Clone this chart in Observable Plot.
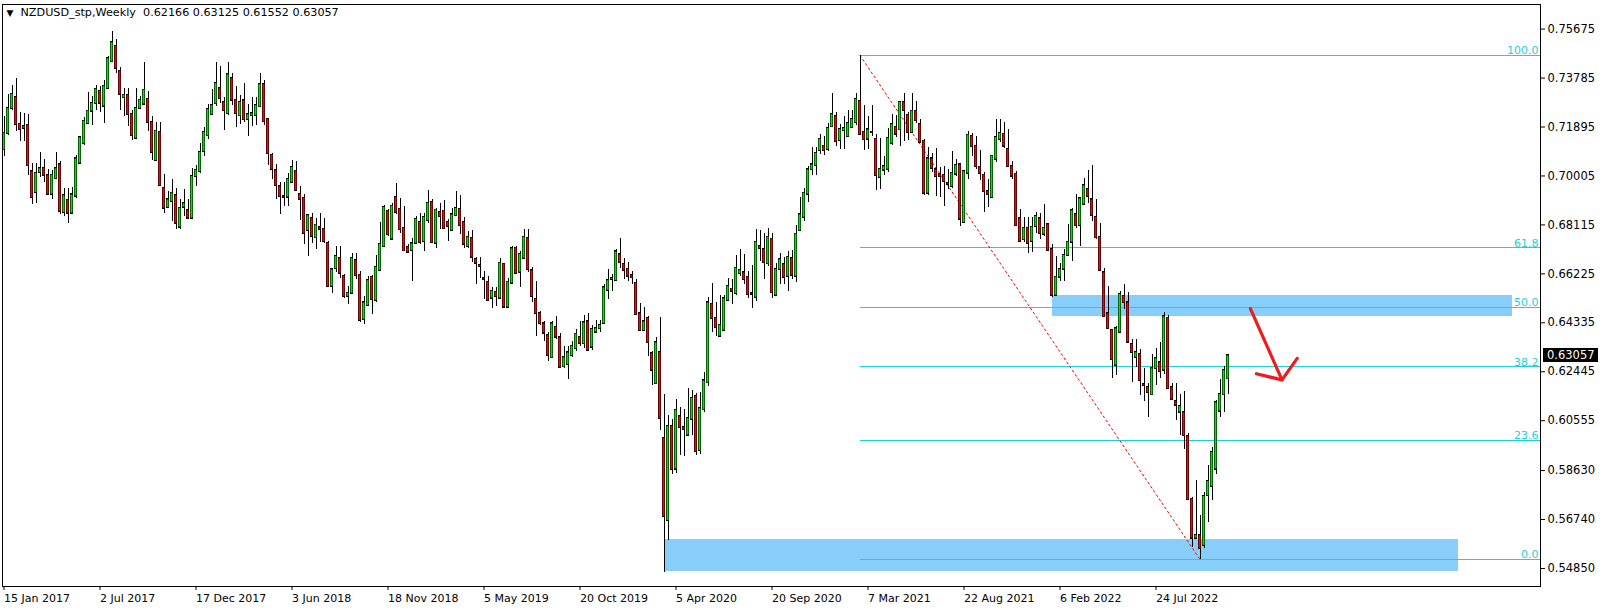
<!DOCTYPE html>
<html><head><meta charset="utf-8">
<script src="https://cdn.jsdelivr.net/npm/d3@7"></script>
<script src="https://cdn.jsdelivr.net/npm/@observablehq/plot@0.6"></script>
<style>
html,body{margin:0;padding:0;background:#fff;}
#chart svg{display:block}
</style></head><body><div id="chart"></div>
<script>
// ---------- data ----------
const symbolName = "NZDUSD_stp,Weekly";
const lastBar = [0.62166, 0.63125, 0.61552, 0.63057]; // O H L C
const firstWeek = "2017-01-15";

const opens = [
.7101,.7165,.7261,.7303,.7201,.7185,.7197,.7017,.6936,.7014,
.7030,.7001,.6930,.6989,.7043,.6859,.6907,.6857,.6923,.7050,
.7126,.7203,.7251,.7280,.7328,.7270,.7338,.7441,.7501,.7405,
.7302,.7312,.7239,.7146,.7261,.7278,.7297,.7207,.7060,.7170,
.6953,.6879,.6902,.6924,.6803,.6880,.6866,.6838,.6998,.7017,
.7095,.7155,.7237,.7279,.7337,.7284,.7241,.7376,.7293,.7232,
.7290,.7218,.7233,.7234,.7267,.7353,.7218,.7081,.7021,.6959,
.6922,.6919,.6976,.7019,.6929,.6914,.6790,.6837,.6761,.6800,
.6795,.6741,.6574,.6642,.6683,.6612,.6536,.6548,.6673,.6618,
.6446,.6500,.6610,.6520,.6636,.6728,.6865,.6757,.6918,.6872,
.6798,.6725,.6712,.6741,.6822,.6747,.6828,.6899,.6741,.6859,
.6865,.6822,.6790,.6847,.6872,.6822,.6728,.6760,.6679,.6655,
.6605,.6591,.6529,.6552,.6529,.6660,.6494,.6587,.6722,.6629,
.6683,.6760,.6634,.6525,.6469,.6429,.6384,.6298,.6417,.6375,
.6263,.6272,.6307,.6333,.6378,.6352,.6437,.6340,.6398,.6410,
.6431,.6559,.6601,.6597,.6696,.6660,.6641,.6615,.6587,.6468,
.6404,.6450,.6314,.6198,.6318,.5987,.5670,.6033,.5869,.6071,
.6029,.6000,.6061,.6149,.5939,.6097,.6202,.6506,.6450,.6382,
.6405,.6520,.6564,.6546,.6623,.6626,.6610,.6546,.6532,.6728,
.6716,.6661,.6757,.6540,.6639,.6658,.6613,.6681,.6613,.6789,
.6841,.6930,.7024,.7040,.7098,.7116,.7103,.7190,.7231,.7137,
.7175,.7152,.7187,.7206,.7289,.7170,.7143,.7170,.7143,.6995,
.7023,.7026,.7126,.7189,.7178,.7284,.7235,.7168,.7251,.7199,
.7135,.6934,.7066,.7024,.7007,.7004,.6972,.6960,.7008,.7043,
.6821,.7011,.7154,.7116,.7034,.7004,.6940,.6917,.7065,.7142,
.7162,.7103,.7036,.7008,.6835,.6754,.6799,.6748,.6805,.6835,
.6776,.6812,.6716,.6540,.6610,.6641,.6694,.6745,.6850,.6809,
.6891,.6949,.6908,.6841,.6764,.6626,.6468,.6404,.6270,.6397,
.6536,.6510,.6350,.6300,.6311,.6195,.6183,.6155,.6256,.6279,
.6251,.6452,.6183,.6129,.6089,.6087,.5994,.5753,.5602,.5612,
.5574,.5766,.5802,.5869,.6093,.6155,0.62166
];
const highs = [
.7229,.7316,.7351,.7376,.7246,.7242,.7238,.7047,.7047,.7090,
.7065,.7026,.7021,.7092,.7056,.6953,.6953,.6956,.7081,.7152,
.7225,.7321,.7308,.7351,.7344,.7370,.7462,.7559,.7527,.7421,
.7338,.7338,.7255,.7338,.7308,.7437,.7325,.7229,.7206,.7206,
.7008,.6940,.6985,.6953,.6908,.6949,.6908,.7030,.7039,.7126,
.7187,.7277,.7334,.7439,.7423,.7305,.7438,.7395,.7346,.7312,
.7357,.7276,.7305,.7305,.7395,.7370,.7222,.7087,.7046,.6976,
.6976,.7010,.7059,.7055,.6959,.6927,.6850,.6856,.6837,.6854,
.6837,.6747,.6645,.6728,.6728,.6619,.6574,.6702,.6702,.6632,
.6536,.6613,.6615,.6692,.6820,.6888,.6872,.6895,.6972,.6914,
.6884,.6734,.6760,.6843,.6856,.6856,.6946,.6908,.6875,.6895,
.6905,.6831,.6875,.6942,.6924,.6841,.6786,.6788,.6687,.6687,
.6632,.6612,.6568,.6568,.6683,.6664,.6606,.6728,.6730,.6709,
.6795,.6792,.6647,.6593,.6478,.6439,.6397,.6439,.6459,.6394,
.6343,.6343,.6362,.6407,.6439,.6461,.6468,.6423,.6442,.6442,
.6581,.6639,.6619,.6716,.6760,.6683,.6668,.6632,.6600,.6508,
.6491,.6456,.6324,.6376,.6453,.6157,.6074,.6061,.6138,.6106,
.6100,.6179,.6174,.6161,.6164,.6243,.6533,.6587,.6510,.6538,
.6538,.6603,.6600,.6692,.6718,.6696,.6632,.6655,.6793,.6790,
.6780,.6799,.6780,.6661,.6703,.6684,.6709,.6713,.6809,.6918,
.6953,.7036,.7110,.7110,.7162,.7152,.7203,.7319,.7244,.7201,
.7229,.7255,.7255,.7319,.7466,.7274,.7229,.7274,.7162,.7146,
.7075,.7184,.7239,.7235,.7287,.7319,.7244,.7319,.7287,.7219,
.7142,.7110,.7088,.7107,.7033,.7036,.7024,.7094,.7065,.7049,
.7021,.7171,.7165,.7154,.7098,.7013,.6985,.7081,.7219,.7219,
.7206,.7181,.7056,.7017,.6870,.6841,.6841,.6841,.6859,.6857,
.6891,.6818,.6735,.6690,.6664,.6718,.6812,.6876,.6930,.6918,
.6992,.7021,.7039,.6908,.6816,.6645,.6574,.6408,.6421,.6555,
.6583,.6549,.6369,.6369,.6331,.6256,.6200,.6311,.6333,.6356,
.6472,.6461,.6200,.6200,.6157,.6168,.6007,.5760,.5824,.5689,
.5779,.5882,.5952,.6132,.6213,.6266,0.63125
];
const lows = [
.7075,.7158,.7255,.7174,.7135,.7133,.7004,.6891,.6895,.6995,
.6975,.6925,.6911,.6985,.6853,.6844,.6818,.6850,.6915,.7045,
.7120,.7200,.7197,.7252,.7244,.7203,.7335,.7438,.7396,.7255,
.7229,.7190,.7139,.7142,.7257,.7274,.7171,.7062,.7056,.6960,
.6857,.6876,.6825,.6793,.6793,.6844,.6831,.6831,.6959,.7010,
.7074,.7141,.7235,.7267,.7280,.7177,.7232,.7273,.7186,.7200,
.7205,.7154,.7192,.7196,.7263,.7196,.7042,.6985,.6908,.6850,
.6882,.6882,.6972,.6940,.6827,.6734,.6690,.6741,.6715,.6743,
.6741,.6571,.6546,.6628,.6606,.6529,.6504,.6542,.6600,.6436,
.6427,.6497,.6465,.6512,.6632,.6724,.6767,.6754,.6850,.6779,
.6709,.6702,.6593,.6734,.6734,.6709,.6818,.6741,.6722,.6795,
.6792,.6747,.6786,.6843,.6773,.6719,.6722,.6666,.6580,.6606,
.6525,.6516,.6487,.6497,.6523,.6491,.6488,.6583,.6619,.6571,
.6679,.6629,.6510,.6382,.6424,.6362,.6285,.6294,.6369,.6260,
.6256,.6215,.6298,.6324,.6343,.6333,.6324,.6328,.6395,.6397,
.6427,.6523,.6555,.6594,.6645,.6600,.6594,.6581,.6463,.6401,
.6401,.6305,.6193,.6194,.6016,.5470,.5593,.5846,.5853,.5920,
.5916,.5997,.5997,.5923,.5926,.6087,.6189,.6395,.6382,.6378,
.6401,.6517,.6504,.6538,.6613,.6583,.6527,.6488,.6517,.6671,
.6600,.6652,.6526,.6536,.6580,.6581,.6555,.6600,.6590,.6786,
.6825,.6898,.7004,.7002,.7085,.7081,.7094,.7187,.7116,.7101,
.7103,.7149,.7184,.7197,.7158,.7098,.7101,.7152,.6944,.6949,
.7002,.7013,.7120,.7149,.7116,.7133,.7139,.7165,.7203,.7126,
.6925,.6925,.7013,.6921,.6917,.6883,.6947,.6953,.7000,.6805,
.6818,.6988,.7077,.7024,.6983,.6859,.6880,.6915,.7052,.7129,
.7107,.7034,.6988,.6805,.6744,.6744,.6703,.6705,.6780,.6754,
.6767,.6709,.6533,.6536,.6594,.6594,.6690,.6671,.6799,.6728,
.6885,.6895,.6825,.6757,.6633,.6453,.6408,.6218,.6231,.6395,
.6485,.6354,.6202,.6260,.6151,.6128,.6068,.6151,.6192,.6218,
.6234,.6177,.6136,.6055,.6000,.5943,.5748,.5567,.5599,.5520,
.5561,.5663,.5747,.5846,.6068,.6089,0.61552
];
const closes = [
.7165,.7261,.7316,.7199,.7180,.7190,.7039,.6917,.7011,.7028,
.7003,.6930,.7004,.7028,.6863,.6924,.6857,.6927,.7066,.7148,
.7212,.7251,.7280,.7335,.7280,.7347,.7453,.7515,.7415,.7316,
.7312,.7238,.7156,.7261,.7293,.7332,.7207,.7092,.7174,.6963,
.6876,.6908,.6934,.6818,.6876,.6893,.6838,.6998,.7023,.7091,
.7169,.7257,.7272,.7357,.7299,.7252,.7391,.7293,.7241,.7284,
.7218,.7237,.7240,.7272,.7353,.7209,.7087,.7026,.6963,.6920,
.6919,.6987,.7033,.6944,.6910,.6779,.6847,.6767,.6811,.6795,
.6747,.6574,.6638,.6690,.6625,.6536,.6548,.6683,.6616,.6443,
.6510,.6596,.6523,.6648,.6737,.6879,.6773,.6884,.6859,.6792,
.6711,.6706,.6738,.6833,.6743,.6841,.6895,.6743,.6869,.6843,
.6796,.6805,.6850,.6875,.6809,.6737,.6764,.6687,.6664,.6651,
.6602,.6519,.6555,.6535,.6664,.6494,.6591,.6719,.6625,.6698,
.6764,.6638,.6535,.6469,.6429,.6394,.6308,.6429,.6378,.6262,
.6298,.6317,.6343,.6390,.6353,.6433,.6327,.6408,.6411,.6423,
.6568,.6596,.6604,.6707,.6667,.6636,.6613,.6609,.6465,.6404,
.6437,.6356,.6251,.6356,.6065,.5685,.6033,.5866,.6096,.6029,
.6020,.6064,.6142,.5935,.6102,.6209,.6510,.6450,.6414,.6424,
.6526,.6574,.6555,.6645,.6635,.6600,.6542,.6544,.6745,.6720,
.6667,.6764,.6549,.6639,.6677,.6609,.6687,.6617,.6776,.6850,
.6934,.7024,.7043,.7088,.7142,.7098,.7184,.7238,.7133,.7180,
.7184,.7203,.7219,.7296,.7161,.7140,.7178,.7167,.7002,.7026,
.7036,.7146,.7199,.7162,.7284,.7252,.7167,.7251,.7213,.7130,
.6934,.7066,.7030,.6998,.6998,.6979,.6968,.7011,.7041,.6834,
.7017,.7158,.7113,.7036,.7011,.6940,.6930,.7077,.7149,.7165,
.7116,.7036,.7000,.6808,.6748,.6799,.6741,.6803,.6844,.6777,
.6799,.6713,.6540,.6610,.6639,.6694,.6745,.6866,.6808,.6912,
.6962,.6921,.6848,.6761,.6636,.6456,.6410,.6290,.6410,.6543,
.6510,.6359,.6318,.6318,.6209,.6192,.6164,.6256,.6295,.6245,
.6456,.6179,.6138,.6116,.6110,.5997,.5751,.5602,.5612,.5563,
.5763,.5821,.5933,.6125,.6157,.6250,0.63057
];

const dateTickLabels = ["15 Jan 2017","2 Jul 2017","17 Dec 2017","3 Jun 2018","18 Nov 2018",
  "5 May 2019","20 Oct 2019","5 Apr 2020","20 Sep 2020","7 Mar 2021","22 Aug 2021","6 Feb 2022","24 Jul 2022"];
const priceTickLabels = ["0.75675","0.73785","0.71895","0.70005","0.68115","0.66225",
  "0.64335","0.62445","0.60555","0.58630","0.56740","0.54850"];

// Fibonacci retracement: anchored on the week of the high and the week of the low
const fibLevels = [0.0, 23.6, 38.2, 50.0, 61.8, 100.0];
const fibHigh = 0.7466, fibHighWeek = 214;
const fibLow = 0.5520, fibLowWeek = 299;

// supply / demand zones: [startWeek, endWeek, topPrice, bottomPrice]
const zoneStart = [262, 165];
const zoneEnd = [377, 363.6];
const zoneTop = [0.6539, 0.5597];
const zoneBottom = [0.6458, 0.5473];

// hand drawn arrow (week index, price)
const arrowWeek = [311.6, 319.5, 313.1, 319.5, 323.3];
const arrowPrice = [0.6488, 0.6213, 0.6237, 0.6213, 0.6296];
const arrowPart = [0, 0, 1, 1, 1];

// ---------- build ----------
const t0 = d3.utcParse("%Y-%m-%d")(firstWeek).getTime();
const weekDate = i => new Date(t0 + i * 7 * 864e5);
const candles = closes.map((c, i) => ({
  date: weekDate(i), o: opens[i], h: highs[i], l: lows[i], c,
  x1: weekDate(i - 0.375), x2: weekDate(i + 0.375)
}));
const parseLbl = d3.utcParse("%d %b %Y");
const dateTicks = dateTickLabels.map(s => parseLbl(s));
const dateLabelMap = new Map(dateTicks.map((d, i) => [+d, dateTickLabels[i]]));
const priceTicks = priceTickLabels.map(Number);
const priceLabelMap = new Map(priceTicks.map((v, i) => [v, priceTickLabels[i]]));

const xEnd = weekDate(384.125);
const fibs = fibLevels.map(l => ({level: l, price: fibLow + (fibHigh - fibLow) * l / 100}));
const zones = zoneStart.map((s, i) => ({x1: weekDate(s), x2: weekDate(zoneEnd[i]), y1: zoneBottom[i], y2: zoneTop[i]}));
const trend = [{d: weekDate(fibHighWeek), p: fibHigh}, {d: weekDate(fibLowWeek), p: fibLow}];
const arrow = arrowWeek.map((w, i) => ({d: weekDate(w), p: arrowPrice[i], z: arrowPart[i]}));

const GREEN = "#0be00b", RED = "#e80c0c", CYAN = "#1fcfd6", ZONE = "#87cefa";
const FONT = "DejaVu Sans, Verdana, sans-serif";

const chart = Plot.plot({
  width: 1604, height: 610,
  marginLeft: 2, marginRight: 64, marginTop: 4, marginBottom: 24,
  style: {fontFamily: FONT, fontSize: "11px", background: "#fff", color: "#000", overflow: "visible"},
  x: {type: "utc", domain: [weekDate(-0.375), xEnd]},
  y: {domain: [0.54154, 0.76625]},
  marks: [
    Plot.rect(zones, {x1: "x1", x2: "x2", y1: "y1", y2: "y2", fill: ZONE, shapeRendering: "crispEdges"}),
    Plot.ruleY(fibs, {y: "price", x1: weekDate(fibHighWeek), x2: xEnd, stroke: CYAN, strokeWidth: 1, shapeRendering: "crispEdges"}),
    Plot.text(fibs, {x: xEnd, y: "price", text: d => d.level.toFixed(1), textAnchor: "end", lineAnchor: "bottom", dx: -2, dy: -1, fill: CYAN, fontSize: 11}),
    Plot.line(trend, {x: "d", y: "p", stroke: "#ff0000", strokeWidth: 1, strokeDasharray: "2,3"}),
    // wicks
    Plot.ruleX(candles, {x: "date", y1: "l", y2: "h", stroke: "#000", strokeWidth: 1, shapeRendering: "crispEdges"}),
    // body outline (black) and colour fill inside it
    Plot.rect(candles, {x1: "x1", x2: "x2", y1: "o", y2: "c", fill: "#000", insetTop: -1, insetBottom: -1, shapeRendering: "crispEdges"}),
    Plot.rect(candles, {x1: "x1", x2: "x2", y1: "o", y2: "c", fill: d => d.c >= d.o ? GREEN : RED, insetLeft: 0.55, insetRight: 0.55}),
    Plot.line(arrow, {x: "d", y: "p", z: "z", stroke: "#ee1c1c", strokeWidth: 3.2, strokeLinecap: "round", strokeLinejoin: "round"}),
    Plot.frame({stroke: "#000", shapeRendering: "crispEdges"}),
    Plot.axisX({ticks: dateTicks, tickFormat: d => dateLabelMap.get(+d), tickSize: 4, tickPadding: 4, textAnchor: "start", dx: 0, fontSize: 11, fill: "#000"}),
    Plot.axisY({anchor: "right", ticks: priceTicks, tickFormat: d => priceLabelMap.get(d), tickSize: 4, tickPadding: 3, textAnchor: "start", fontSize: 11.5, fill: "#000"}),
    Plot.text([symbolName + "  " + lastBar.map(v => v.toFixed(5)).join(" ")], {frameAnchor: "top-left", dx: 18, dy: 4, lineAnchor: "top", textAnchor: "start", fontSize: 11.2, fill: "#000"}),
    Plot.text(["▼"], {frameAnchor: "top-left", dx: 4, dy: 5, lineAnchor: "top", textAnchor: "start", fontSize: 9, fill: "#000"})
  ]
});

// current price marker on the price axis
const yS = chart.scale("y");
const yy = yS.apply(lastBar[3]);
const svg = d3.select(chart);
const g = svg.append("g").attr("text-anchor", "start");
g.append("rect").attr("x", 1543).attr("y", Math.round(yy) - 7).attr("width", 55).attr("height", 14).attr("fill", "#000");
g.append("text").attr("x", 1547).attr("y", yy).attr("dy", "0.35em").attr("fill", "#fff")
  .attr("text-anchor", "start").attr("font-family", FONT).attr("font-size", 11.5).text(lastBar[3].toFixed(5));

document.getElementById("chart").append(chart);
</script>
</body></html>
